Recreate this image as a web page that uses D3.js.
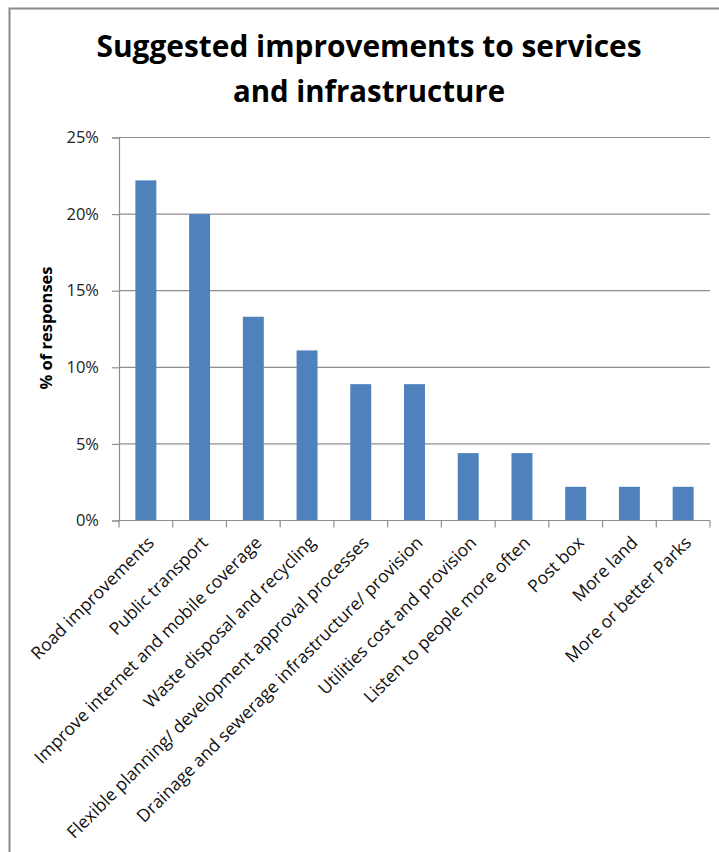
<!DOCTYPE html>
<html>
<head>
<meta charset="utf-8">
<script src="https://cdn.jsdelivr.net/npm/d3@7"></script>
<style>
  html, body { margin: 0; padding: 0; background: #fff; }
  svg { display: block; }
</style>
</head>
<body>
<svg id="chart" width="719" height="852"></svg>
<script>
// Survey answers: share of responses per suggested improvement
const categories = [
  "Road improvements",
  "Public transport",
  "Improve internet and mobile coverage",
  "Waste disposal and recycling",
  "Flexible planning/ development approval processes",
  "Drainage and sewerage infrastructure/ provision",
  "Utilities cost and provision",
  "Listen to people more often",
  "Post box",
  "More land",
  "More or better Parks"
];
const shares = [0.222, 0.200, 0.133, 0.111, 0.089, 0.089, 0.044, 0.044, 0.022, 0.022, 0.022];
const yTicks = [0, 0.05, 0.10, 0.15, 0.20, 0.25];
const titleLines = ["Suggested improvements to services", "and infrastructure"];
const yTitle = "% of responses";

const svg = d3.select("#chart");
const W = 719, H = 852;
const plot = { left: 119, right: 710, top: 137.5, bottom: 520.5 };
const gridColor = "#8e8e8e";
const barColor = "#4f81bd";
const font = "'Open Sans', 'DejaVu Sans', sans-serif";

// outer frame of the chart area
svg.append("rect")
  .attr("x", 9.5).attr("y", 8.5)
  .attr("width", W + 10).attr("height", H + 10)
  .attr("fill", "#fff")
  .attr("stroke", "#8a8a8a").attr("stroke-width", 2);

// title
const title = svg.append("g").attr("font-family", font).attr("font-weight", 700)
  .attr("font-size", 31).attr("fill", "#000").attr("text-anchor", "middle");
title.selectAll("text").data(titleLines).join("text")
  .attr("x", 369).attr("y", (d, i) => 57 + i * 45)
  .attr("textLength", (d, i) => i === 0 ? 545 : 272)
  .attr("lengthAdjust", "spacingAndGlyphs")
  .text(d => d);

const x = d3.scaleBand().domain(categories).range([plot.left, plot.right]).padding(0);
const y = d3.scaleLinear().domain([0, 0.25]).range([plot.bottom, plot.top]);

// horizontal gridlines
svg.append("g").selectAll("line").data(yTicks.filter(t => t > 0)).join("line")
  .attr("x1", plot.left).attr("x2", plot.right)
  .attr("y1", d => y(d)).attr("y2", d => y(d))
  .attr("stroke", gridColor).attr("stroke-width", 1.2);

// y axis
const yAxis = svg.append("g")
  .attr("transform", `translate(${plot.left},0)`)
  .call(d3.axisLeft(y).tickValues(yTicks).tickFormat(d3.format(".0%")).tickSize(7).tickPadding(13));
yAxis.select(".domain").attr("stroke", gridColor).attr("stroke-width", 1.2);
yAxis.selectAll(".tick line").attr("stroke", gridColor).attr("stroke-width", 1.2);
yAxis.selectAll(".tick text").attr("font-family", font).attr("font-size", 16.5).attr("fill", "#222");

// bars
const barW = x.bandwidth() * 0.39;
svg.append("g").selectAll("rect").data(categories).join("rect")
  .attr("x", d => x(d) + (x.bandwidth() - barW) / 2)
  .attr("width", barW)
  .attr("y", (d, i) => y(shares[i]))
  .attr("height", (d, i) => y(0) - y(shares[i]))
  .attr("fill", barColor);

// x axis line with ticks at category boundaries
const xg = svg.append("g");
xg.append("line")
  .attr("x1", plot.left).attr("x2", plot.right)
  .attr("y1", plot.bottom).attr("y2", plot.bottom)
  .attr("stroke", gridColor).attr("stroke-width", 1.2);
const bounds = categories.map(c => x(c)).concat([plot.right]);
xg.selectAll("line.tk").data(bounds).join("line").attr("class", "tk")
  .attr("x1", d => d).attr("x2", d => d)
  .attr("y1", plot.bottom).attr("y2", plot.bottom + 7)
  .attr("stroke", gridColor).attr("stroke-width", 1.2);

// rotated category labels
svg.append("g").selectAll("text").data(categories).join("text")
  .attr("transform", d => `translate(${x(d) + x.bandwidth() / 2 + 5},${plot.bottom + 19}) rotate(-45)`)
  .attr("text-anchor", "end")
  .attr("dy", "0.35em")
  .attr("font-family", font).attr("font-size", 17.5).attr("fill", "#111")
  .text(d => d);

// y axis title
svg.append("text")
  .attr("transform", `translate(52,${(plot.top + plot.bottom) / 2 - 1}) rotate(-90)`)
  .attr("text-anchor", "middle")
  .attr("font-family", font).attr("font-weight", 700).attr("font-size", 16.5).attr("fill", "#000")
  .text(yTitle);
</script>
</body>
</html>
